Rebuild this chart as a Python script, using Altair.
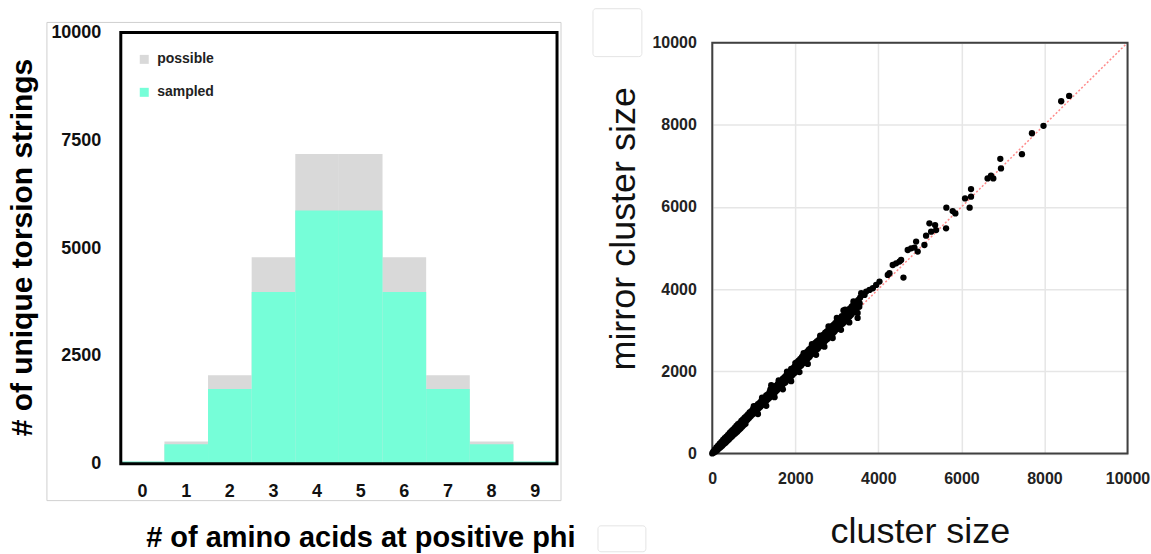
import altair as alt
import pandas as pd

FONT = "Liberation Sans"

# ---------------- left panel data ----------------
phi_counts = ["0", "1", "2", "3", "4", "5", "6", "7", "8", "9"]
possible = [57, 513, 2052, 4788, 7182, 7182, 4788, 2052, 513, 57]
sampled = [50, 450, 1730, 3980, 5870, 5870, 3980, 1730, 450, 50]
series_names = ["possible", "sampled"]
series_colors = ["#D9D9D9", "#76FED8"]
left_ticks = [0, 2500, 5000, 7500, 10000]

# ---------------- right panel data (cluster size, mirror cluster size) ----------------
band_a_upper = [[20,40],[60,95],[100,150],[140,190],[180,240],[220,280],[260,330],[300,370],[340,410],[380,450],
                [420,500],[460,540],[500,580],[540,620],[580,670],[620,710],[660,740],[700,790],[740,830],[780,870]]
band_a_lower = [[0,0],[40,20],[80,50],[120,80],[160,120],[200,150],[240,190],[280,230],[320,260],[360,300],
                [400,340],[440,380],[480,420],[520,460],[560,490],[600,530],[640,570],[680,610],[720,650],[760,690],[800,720]]
band_a_center = [[50,55],[150,160],[250,260],[350,360],[450,470],[550,570],[650,670],[750,770]]

band_b_upper = [[820,910],[860,950],[900,1000],[940,1030],[980,1080],[1020,1110],[1060,1160],[1100,1200],[1140,1230],[1180,1280],
                [1220,1330],[1260,1360],[1300,1410],[1340,1440],[1380,1490],[1420,1660],[1460,1570],[1500,1610],[1540,1650],[1580,1690],
                [1620,1740],[1660,1770],[1700,1820],[1740,1860],[1780,1900],[1820,1940],[1860,1980],[1900,2060],[1940,2070],[1980,2110]]
band_b_lower = [[840,815],[880,855],[920,900],[960,940],[1000,975],[1040,1020],[1080,1060],[1120,1100],[1160,1135],[1200,1180],
                [1240,1220],[1280,1255],[1320,1300],[1360,1340],[1400,1375],[1440,1420],[1480,1460],[1520,1495],[1560,1540],[1600,1580],
                [1640,1615],[1680,1660],[1720,1700],[1760,1730],[1800,1780],[1840,1820],[1880,1855],[1920,1900],[1960,1940],[2000,1975]]
band_b_center = [[850,890],[950,1000],[1050,1100],[1150,1200],[1250,1300],[1350,1410],[1450,1510],[1550,1610],[1650,1710],
                 [1750,1820],[1850,1920],[1950,2030]]

band_c_upper = [[2040,2220],[2080,2260],[2120,2300],[2160,2350],[2200,2390],[2240,2430],[2280,2470],[2320,2520],[2360,2560],[2400,2600],
                [2440,2640],[2480,2690],[2520,2730],[2560,2760],[2600,2810],[2640,2850],[2680,2890],[2720,2940],[2760,2970],[2800,3010],
                [2840,3050],[2880,3100],[2920,3130],[2960,3170],[3000,3220],[3040,3250],[3080,3290],[3120,3340],[3160,3480],[3200,3420],
                [3240,3450],[3280,3500],[3320,3530],[3360,3580],[3400,3620],[3440,3660],[3480,3700],[3520,3740],[3560,3790]]
band_c_lower = [[2020,2020],[2060,2070],[2100,2110],[2140,2140],[2180,2190],[2220,2240],[2260,2270],[2300,2310],[2340,2350],[2380,2400],
                [2420,2440],[2460,2470],[2500,2520],[2540,2550],[2580,2600],[2620,2640],[2660,2670],[2700,2720],[2740,2760],[2780,2790],
                [2820,2850],[2860,2880],[2900,2920],[2940,2960],[2980,3010],[3020,3040],[3060,3080],[3100,3130],[3140,3160],[3180,3200],
                [3220,3250],[3260,3290],[3300,3330],[3340,3370],[3380,3420],[3420,3450],[3460,3490],[3500,3300],[3540,3570]]
band_c_center = [[2050,2130],[2150,2240],[2250,2340],[2350,2440],[2450,2550],[2550,2650],[2650,2760],[2750,2860],[2850,2960],
                 [2950,3060],[3050,3160],[3150,3270],[3250,3360],[3350,3470],[3450,3570],[3550,3650]]
band_outer = [[1000,1150],[1100,960],[1200,1360],[1300,1160],[1400,1560],[1500,1370],[1600,1780],[1700,1560],[1800,1990],
              [1900,1760],[2000,2200],[2100,1980],[2200,2440],[2300,2180],[2400,2660],[2500,2400],[2600,2870],[2700,2600],
              [2800,3090],[2900,2810],[3000,3300],[3100,3010],[3200,3500],[3300,3190],[3400,3700],[3500,3420]]

sparse_points = [[3587,3900],[3666,3859],[3707,3941],[3786,3980],[3866,4022],[3947,4102],[4027,4184],[4226,4345],[4267,4386],
                 [4346,4588],[4428,4629],[4508,4670],[4548,4709],[4604,4282],[4707,4952],[4789,4994],[4868,5011],[4909,5157],
                 [4947,4913],[5108,5074],[5149,5302],[5229,5601],[5270,5399],[5366,5560],[5390,5438],[5630,5480],[5637,5983],
                 [5789,5900],[5854,5844],[6087,6209],[6198,5983],[6231,6250],[6231,6435],[6630,6695],[6712,6760],[6767,6695],
                 [6936,7173],[6952,6938],[7457,7285],[7698,7795],[7976,7975],[8402,8573],[8594,8704]]

diagonal = [0, 10000]
right_ticks = [0, 2000, 4000, 6000, 8000, 10000]

# ---------------- left panel ----------------
bars_df = pd.DataFrame({
    "k": phi_counts * 2,
    "value": possible + sampled,
    "series": ["possible"] * len(phi_counts) + ["sampled"] * len(phi_counts),
})

LW, LH = 437, 432

x_left = alt.X(
    "k:N", sort=phi_counts,
    scale=alt.Scale(paddingInner=0, paddingOuter=0),
    axis=alt.Axis(
        title="# of amino acids at positive phi", labelAngle=0, labelFontSize=18,
        labelFontWeight="bold", labelFont=FONT, labelColor="#111", labelPadding=19,
        ticks=False, domain=False, titleFontSize=29, titleFontWeight="bold",
        titleFont=FONT, titleColor="#000", titleX=240, titleY=83,
        titleAlign="center", titleBaseline="alphabetic",
    ),
)
y_left = alt.Y(
    "value:Q", stack=None,
    scale=alt.Scale(domain=[0, 10000], nice=False),
    axis=alt.Axis(
        values=left_ticks, format="d", title="# of unique torsion strings",
        grid=False, ticks=False, domain=False, labelFontSize=18, labelFontWeight="bold",
        labelFont=FONT, labelColor="#111", labelPadding=20, labelFlush=False,
        titleFontSize=30, titleFontWeight="bold", titleFont=FONT, titleColor="#000",
        titleX=-89, titleY=215, titleAngle=270, titleAlign="center",
        titleBaseline="alphabetic",
    ),
)
color_left = alt.Color(
    "series:N",
    scale=alt.Scale(domain=series_names, range=series_colors),
    legend=alt.Legend(
        title=None, orient="none", legendX=16.5, legendY=20, symbolType="square",
        symbolSize=81, symbolStrokeWidth=0, labelFontSize=14, labelFontWeight="bold",
        labelFont=FONT, labelColor="#222", rowPadding=19, labelOffset=6, padding=0,
    ),
)

base_left = alt.Chart(bars_df)
bars_possible = base_left.transform_filter(alt.datum.series == "possible").mark_bar().encode(
    x=x_left, y=y_left, color=color_left)
bars_sampled = base_left.transform_filter(alt.datum.series == "sampled").mark_bar().encode(
    x=x_left, y=y_left, color=color_left)

one_row = alt.Data(values=[{"o": 1}])
outer_box = alt.Chart(one_row).mark_rect(fill="transparent", stroke="#D0D0D0", strokeWidth=1).encode(
    x=alt.value(-74), x2=alt.value(441), y=alt.value(-10), y2=alt.value(469))
left_frame = alt.Chart(one_row).mark_rect(fill="transparent", stroke="#000000", strokeWidth=3).encode(
    x=alt.value(0), x2=alt.value(LW), y=alt.value(0), y2=alt.value(LH))

left = alt.layer(outer_box, bars_possible, bars_sampled, left_frame).properties(
    width=LW, height=LH, view=alt.ViewBackground(stroke="transparent"))

# ---------------- right panel ----------------
all_pts = (band_a_upper + band_a_lower + band_a_center + band_b_upper + band_b_lower +
           band_b_center + band_c_upper + band_c_lower + band_c_center + band_outer + sparse_points)
pts_df = pd.DataFrame(all_pts, columns=["cluster", "mirror"])
diag_df = pd.DataFrame({"cluster": diagonal, "mirror": diagonal})

RW, RH = 416, 411.5

x_right = alt.X(
    "cluster:Q", scale=alt.Scale(domain=[0, 10000], nice=False),
    axis=alt.Axis(
        values=right_ticks, format="d", title="cluster size", grid=True,
        gridColor="#E6E6E6", gridWidth=1.5, ticks=False, domain=False,
        labelFontSize=16, labelFontWeight="bold", labelFont=FONT, labelColor="#222",
        labelPadding=17, labelFlush=False, titleFontSize=36, titleFontWeight="normal",
        titleFont=FONT, titleColor="#111", titleX=RW / 2, titleY=89.5,
        titleAlign="center", titleBaseline="alphabetic",
    ),
)
y_right = alt.Y(
    "mirror:Q", scale=alt.Scale(domain=[0, 10000], nice=False),
    axis=alt.Axis(
        values=right_ticks, format="d", title="mirror cluster size", grid=True,
        gridColor="#E6E6E6", gridWidth=1.5, ticks=False, domain=False,
        labelFontSize=16, labelFontWeight="bold", labelFont=FONT, labelColor="#222",
        labelPadding=16, labelFlush=False, titleFontSize=36, titleFontWeight="normal",
        titleFont=FONT, titleColor="#111", titleX=-77.5, titleY=186, titleAngle=270,
        titleAlign="center", titleBaseline="alphabetic",
    ),
)

diag_line = alt.Chart(diag_df).mark_line(color="#FF8A8A", strokeDash=[2, 2], strokeWidth=1.5).encode(
    x=x_right, y=y_right)
right_frame = alt.Chart(one_row).mark_rect(fill="transparent", stroke="#404040", strokeWidth=2).encode(
    x=alt.value(0), x2=alt.value(RW), y=alt.value(0), y2=alt.value(RH))
scatter = alt.Chart(pts_df).mark_circle(size=40, color="#000000", opacity=1).encode(
    x=x_right, y=y_right)
box_top = alt.Chart(one_row).mark_rect(fill="white", stroke="#E4E4E4", strokeWidth=1, cornerRadius=3).encode(
    x=alt.value(-119.5), x2=alt.value(-70.5), y=alt.value(-34), y2=alt.value(14))
box_bottom = alt.Chart(one_row).mark_rect(fill="white", stroke="#E4E4E4", strokeWidth=1, cornerRadius=3).encode(
    x=alt.value(-114.5), x2=alt.value(-66.5), y=alt.value(484), y2=alt.value(510))

right = alt.layer(box_top, box_bottom, diag_line, right_frame, scatter).properties(
    width=RW, height=RH, view=alt.ViewBackground(stroke="transparent"))

chart = alt.hconcat(left, right, spacing=155.5, bounds="flush", center=True).properties(
    padding={"left": 7, "top": 7, "right": 0, "bottom": 0},
    background="white",
)

chart.save("out.html", embed_options={"renderer": "svg", "actions": False})
